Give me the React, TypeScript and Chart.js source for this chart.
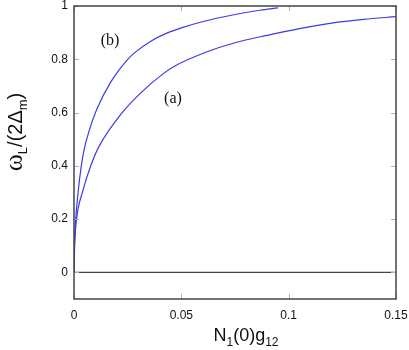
import React, { useEffect, useRef } from "react";
import { Chart, registerables } from "chart.js";

Chart.register(...registerables);

// Curve (a)
const aX = [0, 0.0003, 0.0012, 0.0039, 0.0078, 0.0116, 0.0217, 0.031, 0.0419, 0.0466, 0.062, 0.075, 0.09, 0.105, 0.12, 0.135, 0.15];
const aY = [0, 0.1, 0.2, 0.3, 0.4, 0.472, 0.592, 0.673, 0.748, 0.773, 0.828, 0.862, 0.89, 0.915, 0.936, 0.95, 0.96];
// Curve (b)
const bX = [0, 0.0002, 0.0008, 0.0019, 0.0034, 0.0047, 0.007, 0.0106, 0.0171, 0.0245, 0.0283, 0.036, 0.0438, 0.05, 0.0593, 0.075, 0.0866, 0.095];
const bY = [0, 0.1, 0.2, 0.3, 0.4, 0.461, 0.53, 0.612, 0.714, 0.795, 0.825, 0.869, 0.9, 0.918, 0.94, 0.968, 0.984, 0.993];
// Zero line
const zeroX = [0, 0.15];
const zeroY = [0, 0];

const xTicks = [0, 0.05, 0.1, 0.15];
const xTickLabels = ["0", "0.05", "0.1", "0.15"];
const yTicks = [0, 0.2, 0.4, 0.6, 0.8, 1];
const yTickLabels = ["0", "0.2", "0.4", "0.6", "0.8", "1"];

const curveLabels = [
  { text: "(b)", x: 0.0168, y: 0.87 },
  { text: "(a)", x: 0.0461, y: 0.65 },
];

const SANS = "'Liberation Sans', Arial, sans-serif";
const SERIF = "'Liberation Serif', 'Times New Roman', serif";

type Piece = { t: string; font: string; dy: number };

function drawPieces(ctx: CanvasRenderingContext2D, pieces: Piece[], cx: number, baseline: number) {
  let total = 0;
  for (const p of pieces) {
    ctx.font = p.font;
    total += ctx.measureText(p.t).width;
  }
  let x = cx - total / 2;
  for (const p of pieces) {
    ctx.font = p.font;
    ctx.fillText(p.t, x, baseline + p.dy);
    x += ctx.measureText(p.t).width;
  }
}

const decorPlugin = {
  id: "decor",
  afterDatasetsDraw(chart: any) {
    const ctx = chart.ctx as CanvasRenderingContext2D;
    const { left, right, top, bottom } = chart.chartArea;
    const xs = chart.scales.x;
    const ys = chart.scales.y;
    ctx.save();
    // inward ticks
    ctx.strokeStyle = "#a8a8f0";
    ctx.lineWidth = 1;
    const tl = 5;
    for (const v of xTicks) {
      const px = Math.round(xs.getPixelForValue(v)) + 0.5;
      ctx.beginPath();
      ctx.moveTo(px, bottom);
      ctx.lineTo(px, bottom - tl);
      ctx.moveTo(px, top);
      ctx.lineTo(px, top + tl);
      ctx.stroke();
    }
    for (const v of yTicks) {
      const py = Math.round(ys.getPixelForValue(v)) + 0.5;
      ctx.beginPath();
      ctx.moveTo(left, py);
      ctx.lineTo(left + tl, py);
      ctx.moveTo(right, py);
      ctx.lineTo(right - tl, py);
      ctx.stroke();
    }
    // frame
    ctx.strokeStyle = "#444";
    ctx.lineWidth = 1.5;
    ctx.strokeRect(left, top, right - left, bottom - top);

    // curve labels
    ctx.fillStyle = "#111";
    ctx.font = `16px ${SERIF}`;
    ctx.textAlign = "center";
    ctx.textBaseline = "middle";
    for (const l of curveLabels) {
      ctx.fillText(l.text, xs.getPixelForValue(l.x), ys.getPixelForValue(l.y));
    }

    // x title
    ctx.textAlign = "left";
    ctx.textBaseline = "alphabetic";
    drawPieces(
      ctx,
      [
        { t: "N", font: `18px ${SANS}`, dy: 0 },
        { t: "1", font: `12px ${SANS}`, dy: 5 },
        { t: "(0)g", font: `18px ${SANS}`, dy: 0 },
        { t: "12", font: `12px ${SANS}`, dy: 5 },
      ],
      246,
      341
    );

    // y title (rotated)
    ctx.translate(22, 132);
    ctx.rotate(-Math.PI / 2);
    drawPieces(
      ctx,
      [
        { t: "\u03C9", font: `26px ${SERIF}`, dy: 0 },
        { t: "L", font: `13px ${SANS}`, dy: 5 },
        { t: "/(2\u0394", font: `20px ${SANS}`, dy: 0 },
        { t: "m", font: `13px ${SANS}`, dy: 5 },
        { t: ")", font: `20px ${SANS}`, dy: 0 },
      ],
      0,
      0
    );
    ctx.restore();
  },
};

export default function App() {
  const ref = useRef<HTMLCanvasElement | null>(null);
  useEffect(() => {
    if (!ref.current) return;
    const mk = (xs: number[], ys: number[]) => xs.map((x, i) => ({ x, y: ys[i] }));
    const chart = new Chart(ref.current, {
      type: "line",
      data: {
        datasets: [
          {
            data: mk(zeroX, zeroY),
            borderColor: "#444",
            borderWidth: 1.2,
            pointRadius: 0,
            tension: 0,
          },
          {
            data: mk(aX, aY),
            borderColor: "#3b3be6",
            borderWidth: 1.2,
            pointRadius: 0,
            cubicInterpolationMode: "monotone",
          },
          {
            data: mk(bX, bY),
            borderColor: "#3b3be6",
            borderWidth: 1.2,
            pointRadius: 0,
            cubicInterpolationMode: "monotone",
          },
        ],
      },
      options: {
        responsive: false,
        animation: false,
        events: [],
        layout: { padding: { left: 0, top: 6, right: 13, bottom: 0 } },
        plugins: { legend: { display: false }, tooltip: { enabled: false } },
        scales: {
          x: {
            type: "linear",
            min: 0,
            max: 0.15,
            grid: { display: false, drawTicks: false },
            border: { display: false },
            afterBuildTicks: (axis: any) => {
              axis.ticks = xTicks.map((v) => ({ value: v }));
            },
            afterFit: (axis: any) => {
              axis.height = 51;
              axis.paddingLeft = 0;
              axis.paddingRight = 0;
            },
            ticks: {
              padding: 9,
              color: "#111",
              font: { family: SANS, size: 12 },
              maxRotation: 0,
              autoSkip: false,
              callback: (_v: any, i: number) => xTickLabels[i],
            },
          },
          y: {
            type: "linear",
            min: -0.1,
            max: 1,
            grid: { display: false, drawTicks: false },
            border: { display: false },
            afterBuildTicks: (axis: any) => {
              axis.ticks = yTicks.map((v) => ({ value: v }));
            },
            afterFit: (axis: any) => {
              axis.width = 74;
              axis.paddingTop = 0;
              axis.paddingBottom = 0;
            },
            ticks: {
              padding: 6,
              color: "#111",
              font: { family: SANS, size: 12 },
              autoSkip: false,
              callback: (_v: any, i: number) => yTickLabels[i],
            },
          },
        },
      },
      plugins: [decorPlugin],
    });
    return () => chart.destroy();
  }, []);
  return (
    <div style={{ position: "fixed", left: 0, top: 0, width: 409, height: 350, background: "#fff" }}>
      <canvas ref={ref} width={409} height={350} />
    </div>
  );
}
